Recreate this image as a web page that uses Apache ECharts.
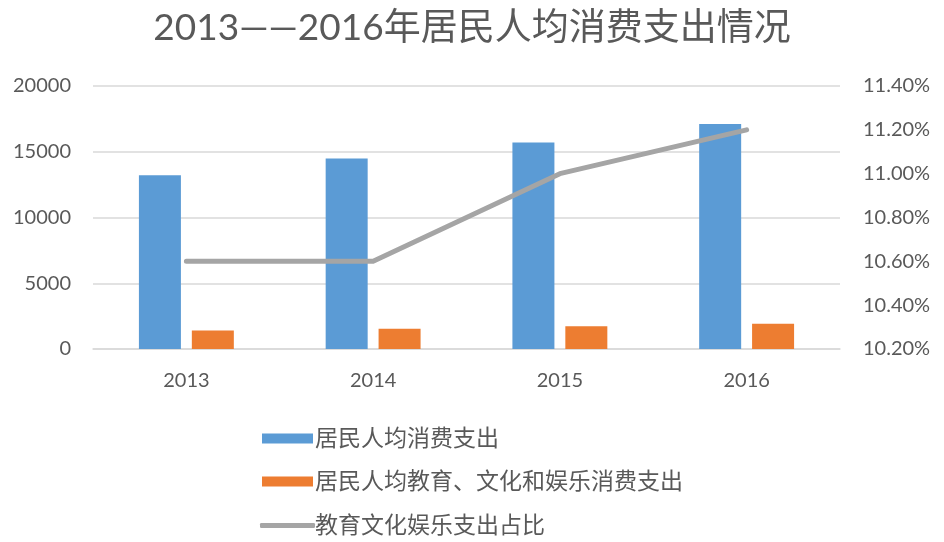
<!DOCTYPE html>
<html><head><meta charset="utf-8">
<script src="https://cdn.jsdelivr.net/npm/echarts@6/dist/echarts.min.js"></script>
<style>html,body{margin:0;padding:0;background:#fff}#c{width:944px;height:542px}</style>
</head><body><div id="c"></div>
<script>
const categories = ['2013', '2014', '2015', '2016'];
const consumption = [13220, 14491, 15712, 17111];
const eduSpending = [1398, 1536, 1723, 1915];
const eduShare = [10.6, 10.6, 11.0, 11.2];
const seriesNames = ['居民人均消费支出', '居民人均教育、文化和娱乐消费支出', '教育文化娱乐支出占比'];
const titleText = '2013——2016年居民人均消费支出情况';

const FONT = "Lato, 'Noto Sans CJK SC', sans-serif";
const TXT = '#595959';
const chart = echarts.init(document.getElementById('c'), null, {renderer: 'canvas'});
chart.setOption({
  animation: false,
  backgroundColor: '#fff',
  title: {text: titleText, left: 'center', top: 5,
    textStyle: {fontFamily: FONT, fontSize: 37, fontWeight: 'normal', color: TXT}},
  grid: {left: 93, right: 104, top: 86, bottom: 193, containLabel: false},
  legend: [{
    orient: 'vertical', left: 257, top: 422, itemWidth: 51, itemHeight: 10, itemGap: 20,
    icon: 'rect', data: [seriesNames[0], seriesNames[1]],
    textStyle: {fontFamily: FONT, fontSize: 23, color: TXT, padding: [0, 0, 0, -3]}
  }, {
    orient: 'vertical', left: 255, top: 509, itemWidth: 55, itemHeight: 5,
    icon: 'roundRect', data: [seriesNames[2]],
    textStyle: {fontFamily: FONT, fontSize: 23, color: TXT, padding: [0, 0, 0, -5]}
  }],
  xAxis: {type: 'category', data: categories,
    axisLine: {lineStyle: {color: '#D9D9D9', width: 1.5}}, axisTick: {show: false},
    axisLabel: {fontFamily: FONT, fontSize: 20, color: TXT, margin: 22}},
  yAxis: [{type: 'value', min: 0, max: 20000, interval: 5000,
    axisLine: {show: false}, axisTick: {show: false},
    splitLine: {lineStyle: {color: '#D9D9D9', width: 1.5}},
    axisLabel: {fontFamily: FONT, fontSize: 20, color: TXT, margin: 22,
      formatter: v => String(v)}},
   {type: 'value', min: 10.2, max: 11.4, interval: 0.2, position: 'right',
    axisLine: {show: false}, axisTick: {show: false}, splitLine: {show: false},
    axisLabel: {fontFamily: FONT, fontSize: 20, color: TXT, margin: 23,
      formatter: v => v.toFixed(2) + '%'}}],
  series: [
    {name: seriesNames[0], type: 'bar', data: consumption, barWidth: 42, barGap: '26%',
      itemStyle: {color: '#5B9BD5'}},
    {name: seriesNames[1], type: 'bar', data: eduSpending, barWidth: 42, barGap: '26%',
      itemStyle: {color: '#ED7D31'}},
    {name: seriesNames[2], type: 'line', yAxisIndex: 1, data: eduShare, symbol: 'none',
      itemStyle: {color: '#A5A5A5'},
      lineStyle: {color: '#A5A5A5', width: 5, cap: 'round', join: 'round'}}
  ]
});
</script></body></html>
